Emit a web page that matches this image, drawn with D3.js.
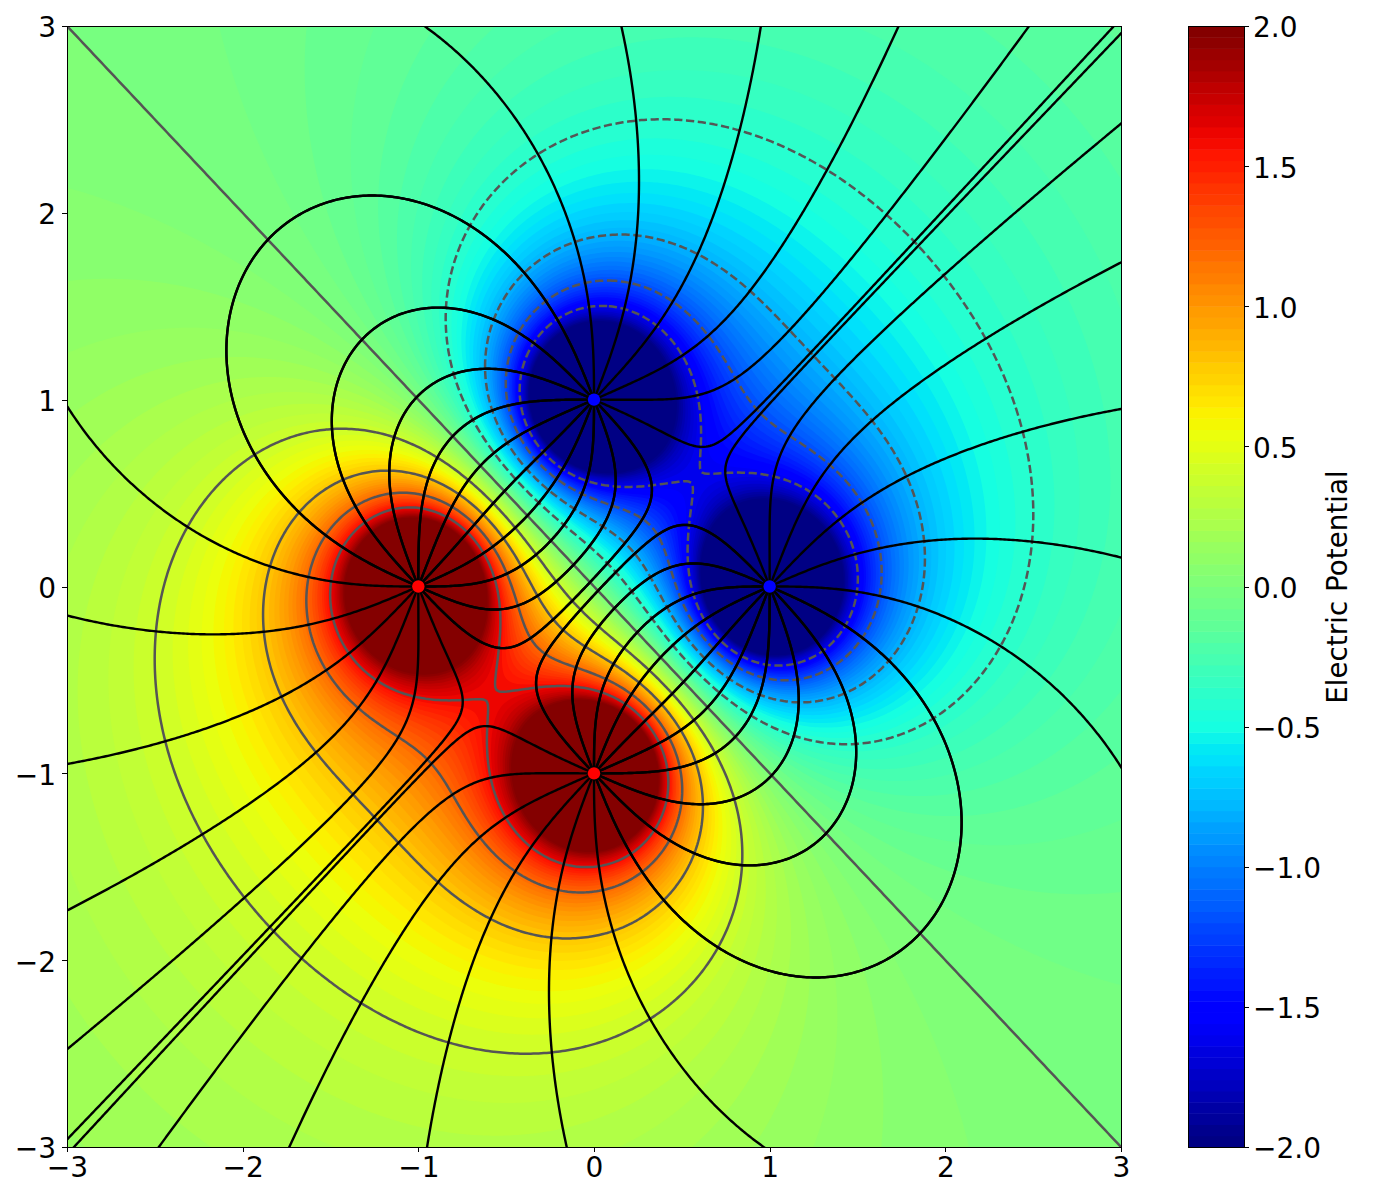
<!DOCTYPE html>
<html>
<head>
<meta charset="utf-8">
<script src="https://cdn.jsdelivr.net/npm/d3@7"></script>
<style>
html,body{margin:0;padding:0;background:#fff}
svg{display:block}
text{font-family:"DejaVu Sans",sans-serif;fill:#000}
</style>
</head>
<body>
<svg id="chart" width="1400" height="1200"></svg>
<script>
// Values
const chargeX = [-1, 0, 1, 0];
const chargeY = [0, -1, 0, 1];
const chargeQ = [1, 1, -1, -1];
const chargeColors = ["#ff0000", "#ff0000", "#0000ff", "#0000ff"];
const contourLevels = [-1.6, -1.2, -0.8, -0.4, 0, 0.4, 0.8, 1.2, 1.6];
const axisTicks = [-3, -2, -1, 0, 1, 2, 3];
const colorbarTicks = [-2, -1.5, -1, -0.5, 0, 0.5, 1, 1.5, 2];
const domainX = [-3, 3];
const domainY = [-3, 3];
const colorDomain = [-2, 2];
const bandCount = 100;
const linesPerCharge = 16;
const colorbarLabel = "Electric Potential";

// Layout
const plot = {left: 67, right: 1121, top: 26, bottom: 1147};
const bar = {left: 1188, right: 1244};
const FONT = 28;
const GRID = 401;

const x = d3.scaleLinear().domain(domainX).range([plot.left, plot.right]);
const y = d3.scaleLinear().domain(domainY).range([plot.bottom, plot.top]);
const cbar = d3.scaleLinear().domain(colorDomain).range([plot.bottom, plot.top]);

// jet colormap, as piecewise-linear channels
const jetR = d3.scaleLinear().domain([0, 0.35, 0.66, 0.89, 1]).range([0, 0, 1, 1, 0.5]).clamp(true);
const jetG = d3.scaleLinear().domain([0, 0.125, 0.375, 0.64, 0.91, 1]).range([0, 0, 1, 1, 0, 0]).clamp(true);
const jetB = d3.scaleLinear().domain([0, 0.11, 0.34, 0.65, 1]).range([0.5, 1, 1, 0, 0]).clamp(true);
const jet = t => {
  const q = Math.min(255, Math.floor(t * 256)) / 255;
  return d3.rgb(jetR(q) * 255, jetG(q) * 255, jetB(q) * 255).formatRgb();
};
const bandNorm = d3.scaleLinear().domain(colorDomain).range([0, 1]);
const bandStep = (colorDomain[1] - colorDomain[0]) / bandCount;
const bands = d3.range(bandCount).map(i => {
  const lo = colorDomain[0] + i * bandStep;
  return {lo, hi: lo + bandStep, color: jet(bandNorm(lo + bandStep / 2))};
});

// Potential and field of the charges
function potential(px, py) {
  let v = 0;
  chargeX.forEach((cx, i) => { v += chargeQ[i] / Math.hypot(px - cx, py - chargeY[i]); });
  return v;
}
function field(px, py) {
  let ex = 0, ey = 0;
  chargeX.forEach((cx, i) => {
    const dx = px - cx, dy = py - chargeY[i], r = Math.hypot(dx, dy), r3 = r * r * r;
    ex += chargeQ[i] * dx / r3;
    ey += chargeQ[i] * dy / r3;
  });
  const n = Math.hypot(ex, ey) || 1;
  return [ex / n, ey / n];
}

const values = new Float64Array(GRID * GRID);
const gridX = d3.scaleLinear().domain([0, GRID - 1]).range(domainX);
const gridY = d3.scaleLinear().domain([0, GRID - 1]).range(domainY);
for (let j = 0; j < GRID; j++) {
  for (let i = 0; i < GRID; i++) {
    const v = potential(gridX(i), gridY(j));
    values[j * GRID + i] = Math.max(colorDomain[0], Math.min(colorDomain[1], Number.isNaN(v) ? 0 : v));
  }
}

const contourGen = d3.contours().size([GRID, GRID]).smooth(true);
const project = d3.geoTransform({
  point(cx, cy) { this.stream.point(x(gridX(cx - 0.5)), y(gridY(cy - 0.5))); }
});
const geoPath = d3.geoPath(project);

const svg = d3.select("#chart");
svg.append("defs").append("clipPath").attr("id", "plotClip").append("rect")
  .attr("x", plot.left).attr("y", plot.top)
  .attr("width", plot.right - plot.left).attr("height", plot.bottom - plot.top);

const g = svg.append("g").attr("clip-path", "url(#plotClip)");

// Filled bands (painted bottom up)
g.append("rect").attr("x", plot.left).attr("y", plot.top)
  .attr("width", plot.right - plot.left).attr("height", plot.bottom - plot.top)
  .attr("fill", bands[0].color);
g.append("g").selectAll("path").data(bands.slice(1)).join("path")
  .attr("d", b => geoPath(contourGen.contour(values, b.lo)))
  .attr("fill", b => b.color);

// Contour lines
g.append("g").selectAll("path").data(contourLevels).join("path")
  .attr("d", l => geoPath(contourGen.contour(values, l)))
  .attr("fill", "none")
  .attr("stroke", "#555555")
  .attr("stroke-width", 2.5)
  .attr("stroke-linejoin", "round")
  .attr("stroke-dasharray", l => l < 0 ? "8.2,3.6" : null);

// Field lines
const H = 0.004, START = 0.015, STOP = 0.02, MAX_STEPS = 12000;
function traceLine(ci, angle) {
  const sign = chargeQ[ci] > 0 ? 1 : -1;
  let px = chargeX[ci] + START * Math.cos(angle);
  let py = chargeY[ci] + START * Math.sin(angle);
  const pts = [[chargeX[ci], chargeY[ci]], [px, py]];
  for (let s = 0; s < MAX_STEPS; s++) {
    const k1 = field(px, py);
    const k2 = field(px + sign * H / 2 * k1[0], py + sign * H / 2 * k1[1]);
    const k3 = field(px + sign * H / 2 * k2[0], py + sign * H / 2 * k2[1]);
    const k4 = field(px + sign * H * k3[0], py + sign * H * k3[1]);
    px += sign * H / 6 * (k1[0] + 2 * k2[0] + 2 * k3[0] + k4[0]);
    py += sign * H / 6 * (k1[1] + 2 * k2[1] + 2 * k3[1] + k4[1]);
    if (s % 3 === 0) pts.push([px, py]);
    if (px < domainX[0] - 0.02 || px > domainX[1] + 0.02 || py < domainY[0] - 0.02 || py > domainY[1] + 0.02) { pts.push([px, py]); break; }
    let hit = -1;
    chargeX.forEach((cx, i) => {
      if (i !== ci && chargeQ[i] === -chargeQ[ci] && Math.hypot(px - cx, py - chargeY[i]) < STOP) hit = i;
    });
    if (hit >= 0) { pts.push([chargeX[hit], chargeY[hit]]); break; }
  }
  return pts;
}
const lineGen = d3.line().x(d => x(d[0])).y(d => y(d[1]));
const fieldLines = [];
chargeX.forEach((_, ci) => {
  d3.range(linesPerCharge).forEach(k => fieldLines.push(traceLine(ci, 2 * Math.PI * k / linesPerCharge)));
});
g.append("g").selectAll("path").data(fieldLines).join("path")
  .attr("d", lineGen).attr("fill", "none").attr("stroke", "#000").attr("stroke-width", 2.4);

// Charges
g.append("g").selectAll("circle").data(chargeX).join("circle")
  .attr("cx", d => x(d)).attr("cy", (d, i) => y(chargeY[i])).attr("r", 6.2)
  .attr("fill", (d, i) => chargeColors[i]);

// Axes
const fmtInt = d => String(d).replace("-", "\u2212");
const fmtOne = d => d3.format(".1f")(d).replace("-", "\u2212");
function styleAxis(sel) {
  sel.selectAll("text").style("font-size", FONT + "px").style("font-family", '"DejaVu Sans",sans-serif').attr("fill", "#000");
  sel.selectAll("line").attr("stroke", "#000").attr("stroke-width", 1).attr("shape-rendering", "crispEdges");
  sel.select(".domain").remove();
}
svg.append("g").attr("transform", `translate(0,${plot.bottom})`)
  .call(d3.axisBottom(x).tickValues(axisTicks).tickFormat(fmtInt).tickSize(5).tickPadding(5)).call(styleAxis);
svg.append("g").attr("transform", `translate(${plot.left},0)`)
  .call(d3.axisLeft(y).tickValues(axisTicks).tickFormat(fmtInt).tickSize(5).tickPadding(6)).call(styleAxis)
  .selectAll("text").attr("transform", "translate(0,2)");
svg.append("rect").attr("x", plot.left + 0.5).attr("y", plot.top + 0.5)
  .attr("width", plot.right - plot.left).attr("height", plot.bottom - plot.top)
  .attr("fill", "none").attr("stroke", "#000").attr("stroke-width", 1).attr("shape-rendering", "crispEdges");

// Colour bar
svg.append("g").selectAll("rect").data(bands).join("rect")
  .attr("x", bar.left).attr("width", bar.right - bar.left)
  .attr("y", b => cbar(b.hi)).attr("height", b => cbar(b.lo) - cbar(b.hi) + 0.5)
  .attr("fill", b => b.color);
svg.append("rect").attr("x", bar.left + 0.5).attr("y", plot.top + 0.5)
  .attr("width", bar.right - bar.left).attr("height", plot.bottom - plot.top)
  .attr("fill", "none").attr("stroke", "#000").attr("stroke-width", 1).attr("shape-rendering", "crispEdges");
svg.append("g").attr("transform", `translate(${bar.right},0)`)
  .call(d3.axisRight(cbar).tickValues(colorbarTicks).tickFormat(fmtOne).tickSize(5).tickPadding(4)).call(styleAxis)
  .selectAll("text").attr("transform", "translate(0,2)");
svg.append("text").attr("transform", "translate(1337,587) rotate(-90)")
  .attr("text-anchor", "middle").attr("dominant-baseline", "central")
  .style("font-size", "27.8px").text(colorbarLabel);
</script>
</body>
</html>
